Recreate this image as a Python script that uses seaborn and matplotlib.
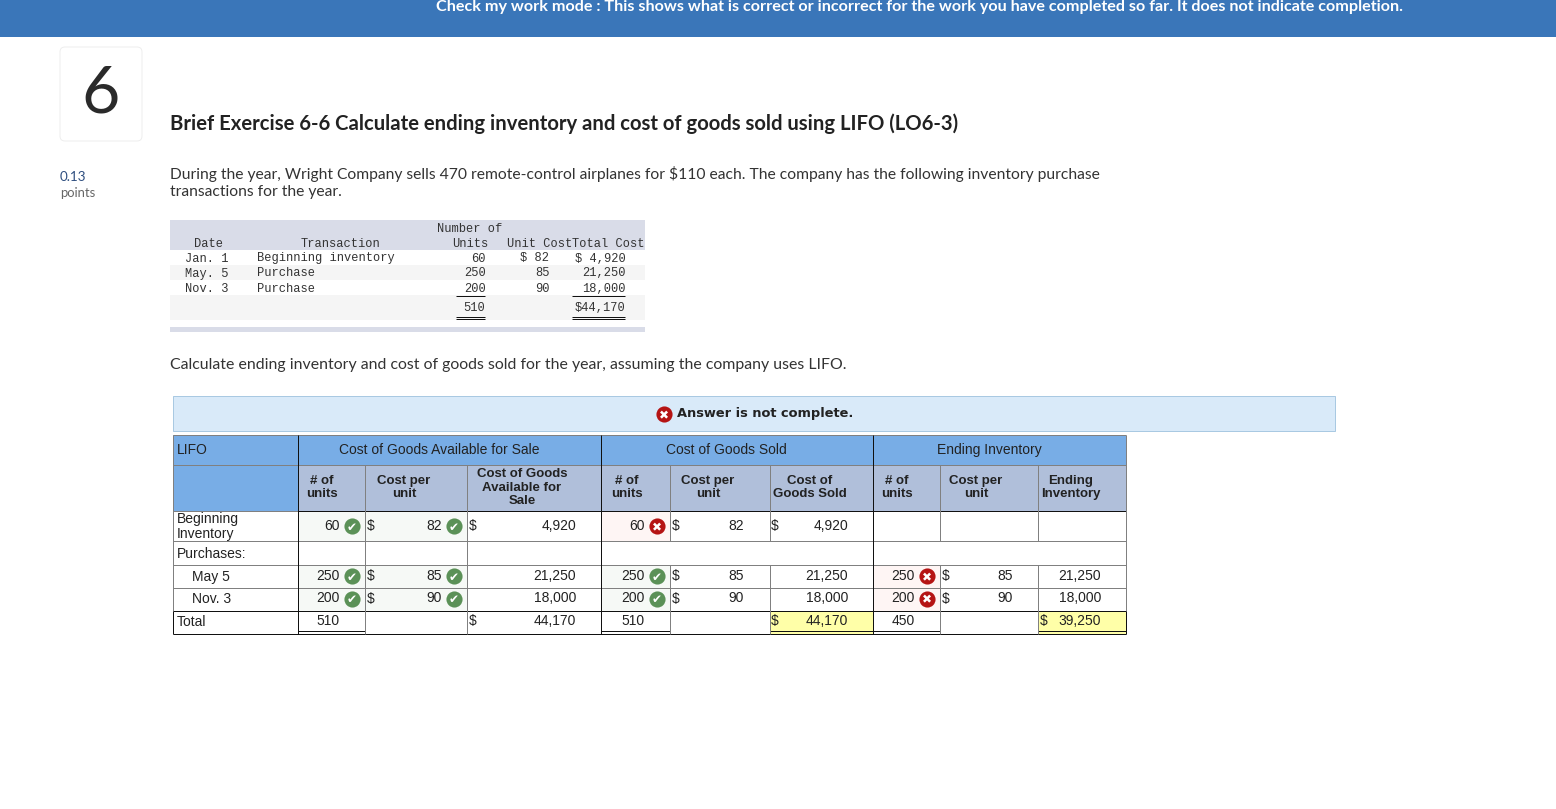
#!/usr/bin/env python3
"""Recreate the LIFO brief exercise screenshot."""

import numpy as np
import matplotlib
matplotlib.use('Agg')
import matplotlib.pyplot as plt
from matplotlib.colors import ListedColormap
from matplotlib.patches import FancyBboxPatch, Rectangle
import seaborn as sns

W, H = 1556, 809

# Inventory purchase table
purchase_dates = ['Jan. 1', 'May. 5', 'Nov. 3']
purchase_names = ['Beginning inventory', 'Purchase', 'Purchase']
purchase_units = ['60', '250', '200']
purchase_costs = ['$ 82', '85', '90']
purchase_totals = ['$ 4,920', '21,250', '18,000']
purchase_sum_units = '510'
purchase_sum_total = '$44,170'

# LIFO answer table
row_labels = ['Beginning\nInventory', 'Purchases:', 'May 5', 'Nov. 3', 'Total']
group_names = ['Cost of Goods Available for Sale', 'Cost of Goods Sold', 'Ending Inventory']
sub_headers = ['# of\nunits', 'Cost per\nunit', 'Cost of Goods\nAvailable for\nSale',
               '# of\nunits', 'Cost per\nunit', 'Cost of\nGoods Sold',
               '# of\nunits', 'Cost per\nunit', 'Ending\nInventory']

# body text by table column, one entry per row (Beginning, Purchases, May, Nov, Total)
avail_units = ['60', '', '250', '200', '510']
avail_costs = ['82', '', '85', '90', '']
avail_totals = ['4,920', '', '21,250', '18,000', '44,170']
sold_units = ['60', '', '250', '200', '510']
sold_costs = ['82', '', '85', '90', '']
sold_totals = ['4,920', '', '21,250', '18,000', '44,170']
end_units = ['', '', '250', '200', '450']
end_costs = ['', '', '85', '90', '']
end_totals = ['', '', '21,250', '18,000', '39,250']

# grading marks: 1 correct, 2 wrong, 0 nothing
avail_units_mark = [1, 0, 1, 1, 0]
avail_costs_mark = [1, 0, 1, 1, 0]
sold_units_mark = [2, 0, 1, 1, 0]
end_units_mark = [0, 0, 2, 2, 0]

# where a dollar sign shows in each column
avail_costs_dollar = [1, 0, 1, 1, 0]
avail_totals_dollar = [1, 0, 0, 0, 1]
sold_costs_dollar = [1, 0, 1, 1, 0]
sold_totals_dollar = [1, 0, 0, 0, 1]
end_costs_dollar = [0, 0, 1, 1, 0]
end_totals_dollar = [0, 0, 0, 0, 1]

# cell states for the heatmap background
WHITE, GOOD, BAD, YELLOW, BLUE, SUB = 0, 1, 2, 3, 4, 5
cell_colors = ['#FFFFFF', '#F6F9F6', '#FEF5F4', '#FFFFA8', '#78ADE6', '#B0BFDA']
cell_states = [
    [BLUE] * 10,
    [BLUE] + [SUB] * 9,
    [WHITE, GOOD, GOOD, WHITE, BAD, WHITE, WHITE, WHITE, WHITE, WHITE],
    [WHITE] * 10,
    [WHITE, GOOD, GOOD, WHITE, GOOD, WHITE, WHITE, BAD, WHITE, WHITE],
    [WHITE, GOOD, GOOD, WHITE, GOOD, WHITE, WHITE, BAD, WHITE, WHITE],
    [WHITE] * 6 + [YELLOW, WHITE, WHITE, YELLOW],
]
col_edges = [173, 298.5, 365.5, 467.5, 601.5, 670.5, 770, 873.5, 940.5, 1038.5, 1126.5]
row_edges = [434.5, 464.5, 510.5, 541, 564.5, 587.5, 610.5, 633.5]

band_colors = ['#FFFFFF', '#F5F5F5', '#D9DCE8']
band_states = [[2], [0], [1], [0], [1], [0], [2]]
band_edges = [220, 250, 265, 280, 295, 320, 327, 332]

sns.set_theme(style='white')
plt.rcParams['text.parse_math'] = False
plt.rcParams['font.family'] = ['Lato', 'DejaVu Sans']

fig = plt.figure(figsize=(W / 100, H / 100), dpi=100, facecolor='white')


def px(size):
    return size * 0.72


def stretched_heatmap(states, xs, ys, colors):
    """Heatmap whose cell grid is stretched to the given pixel edges."""
    ax = fig.add_axes([xs[0] / W, 1 - ys[-1] / H, (xs[-1] - xs[0]) / W, (ys[-1] - ys[0]) / H])
    states = np.array(states)
    sns.heatmap(states, ax=ax, cmap=ListedColormap(colors), vmin=0, vmax=len(colors) - 1,
                cbar=False, xticklabels=False, yticklabels=False)
    ix, iy = np.arange(len(xs)), np.arange(len(ys))
    ax.set_xscale('function', functions=(lambda v: np.interp(v, ix, xs), lambda v: np.interp(v, xs, ix)))
    ax.set_yscale('function', functions=(lambda v: np.interp(v, iy, ys), lambda v: np.interp(v, ys, iy)))
    ax.set_xlim(0, len(xs) - 1)
    ax.set_ylim(len(ys) - 1, 0)
    ax.minorticks_off()
    ax.tick_params(left=False, bottom=False, which='both', labelleft=False, labelbottom=False)
    ax.set_xlabel('')
    ax.set_ylabel('')
    return ax


stretched_heatmap(band_states, [170, 645], band_edges, band_colors)
stretched_heatmap(cell_states, col_edges, row_edges, cell_colors)

# overlay in pixel coordinates for the page furniture and text
ov = fig.add_axes([0, 0, 1, 1], zorder=5)
ov.set_xlim(0, W)
ov.set_ylim(H, 0)
ov.axis('off')
ov.patch.set_alpha(0)

# top bar
ov.add_patch(Rectangle((0, 0), W, 37, color='#3A76B9', lw=0))
ov.text(920, 6.5, 'Check my work mode : This shows what is correct or incorrect for the work '
        'you have completed so far. It does not indicate completion.',
        color='white', fontsize=px(16.1), fontweight='bold', ha='center', va='center')

# question number box
ov.add_patch(FancyBboxPatch((64, 51), 74, 86, boxstyle='round,pad=4,rounding_size=5',
                            fc='white', ec='#EEEEEE', lw=0.72))
ov.text(101, 94, '6', fontsize=px(66), color='#2A2A2A', ha='center', va='center')
ov.text(60, 176.5, '0.13', fontsize=px(13.5), color='#2F4F80', va='center')
ov.text(60, 192.5, 'points', fontsize=px(13), color='#666666', va='center')

# question text
ov.text(170, 124, 'Brief Exercise 6-6 Calculate ending inventory and cost of goods sold using LIFO (LO6-3)',
        fontsize=px(20.25), fontweight='bold', color='#222222', va='center')
ov.text(170, 174, 'During the year, Wright Company sells 470 remote-control airplanes for $110 each. '
        'The company has the following inventory purchase',
        fontsize=px(15.65), color='#333333', va='center')
ov.text(170, 192, 'transactions for the year.', fontsize=px(15.65), color='#333333', va='center')
ov.text(170, 364.5, 'Calculate ending inventory and cost of goods sold for the year, assuming the company uses LIFO.',
        fontsize=px(15.95), color='#333333', va='center')

# purchase table text
MONO = 'Liberation Mono'
mono_size = px(12)
mono_color = '#333333'


def mono(x, y, s, ha='left'):
    ov.text(x, y + 0.5, s, family=MONO, fontsize=mono_size, color=mono_color, ha=ha, va='center')


mono(470, 228, 'Number of', ha='center')
mono(209, 243, 'Date', ha='center')
mono(340.5, 243, 'Transaction', ha='center')
mono(470.5, 243, 'Units', ha='center')
mono(539.5, 243, 'Unit Cost', ha='center')
mono(608.5, 243, 'Total Cost', ha='center')
for i, y in enumerate([258, 273, 288]):
    mono(228.5, y, purchase_dates[i], ha='right')
    mono(257, y, purchase_names[i])
    mono(485.5, y, purchase_units[i], ha='right')
    mono(549.5, y, purchase_costs[i], ha='right')
    mono(625.5, y, purchase_totals[i], ha='right')
mono(485.5, 307, purchase_sum_units, ha='right')
mono(625.5, 307, purchase_sum_total, ha='right')
for x0, x1 in [(456, 485), (572, 625)]:
    ov.hlines([295.5, 317, 319], x0, x1, color='#111111', lw=0.72)

# banner above the answer table
ov.add_patch(Rectangle((173.5, 395.5), 1162, 35, fc='#D9EAF9', ec='#A9C9E2', lw=0.72))


def mark(x, y, kind):
    color = '#5B9157' if kind == 1 else '#B51414'
    glyph = '\u2714' if kind == 1 else '\u2716'
    ov.scatter([x], [y], s=135, color=color, linewidths=0, zorder=6)
    ov.text(x, y, glyph, family='DejaVu Sans', fontsize=px(12), color='white',
            ha='center', va='center_baseline', zorder=7)


mark(664, 414, 2)
ov.text(677, 413.5, 'Answer is not complete.', family='DejaVu Sans', fontweight='bold',
        fontsize=px(13), color='#222222', va='center')

# answer table grid
GREY = '#808080'
DARK = '#111111'
THIN = 0.72
ov.hlines(row_edges[:2], col_edges[0], col_edges[-1], color=GREY, lw=THIN)
ov.hlines(row_edges[2:6], col_edges[0], col_edges[-1], color=GREY, lw=THIN)
ov.hlines(row_edges[2], col_edges[1], col_edges[-1], color=DARK, lw=THIN)
ov.hlines(row_edges[6], col_edges[0], col_edges[-1], color=DARK, lw=THIN)
ov.hlines(row_edges[7], col_edges[0], col_edges[-1], color=DARK, lw=THIN)
# double rule under the total cells
for i in [1, 4, 6, 7, 9]:
    ov.hlines(631, col_edges[i], col_edges[i + 1], color=DARK, lw=THIN)
# minor column rules, the sold and ending groups skip the purchases row
y_sub = row_edges[1]
bottom = row_edges[-1]
for i in [2, 3]:
    ov.vlines(col_edges[i], y_sub, bottom, color=GREY, lw=THIN)
for i in [5, 6, 8, 9]:
    ov.vlines(col_edges[i], y_sub, row_edges[3], color=GREY, lw=THIN)
    ov.vlines(col_edges[i], row_edges[4], bottom, color=GREY, lw=THIN)
ov.vlines([col_edges[1], col_edges[4], col_edges[7]], row_edges[0], row_edges[-1], color=DARK, lw=THIN)
ov.vlines([col_edges[0], col_edges[-1]], row_edges[0], row_edges[-2], color=GREY, lw=THIN)
ov.vlines([col_edges[0], col_edges[-1]], row_edges[-2], row_edges[-1], color=DARK, lw=THIN)

# answer table text
ARIAL = 'Liberation Sans'
cell_size = px(13.9)
ink = '#222222'


def cell(x, y, s, ha='right', bold=False, linespacing=1.08):
    ov.text(x, y, s, family=ARIAL, fontsize=px(13.2) if bold else cell_size, color=ink, ha=ha, va='center',
            fontweight='bold' if bold else 'normal', linespacing=linespacing, multialignment='center')


cell(177, 449.5, 'LIFO', ha='left')
for x, name in zip([439, 726.5, 989], group_names):
    cell(x, 449.5, name, ha='center')

sub_x = [306, 404, 522, 611, 708, 810, 881, 976, 1071]
sub_ha = ['left', 'center', 'center', 'left', 'center', 'center', 'left', 'center', 'center']
for x, ha, name in zip(sub_x, sub_ha, sub_headers):
    cell(x, 487.5, name, ha=ha, bold=True, linespacing=1.16)

row_y = [526, 553, 576, 598.5, 621]
label_x = [177, 177, 192, 192, 177]
for x, y, label in zip(label_x, row_y, row_labels):
    ov.text(x, y + 0.5, label, family=ARIAL, fontsize=cell_size, color=ink, va='center', linespacing=1.16)

# (values, right edge of the text, marks, icon centre, dollar flags, dollar x)
columns = [
    (avail_units, 340, avail_units_mark, 352, None, None),
    (avail_costs, 442, avail_costs_mark, 454, avail_costs_dollar, 367),
    (avail_totals, 576, None, None, avail_totals_dollar, 469),
    (sold_units, 645, sold_units_mark, 657, None, None),
    (sold_costs, 744, None, None, sold_costs_dollar, 672),
    (sold_totals, 848, None, None, sold_totals_dollar, 771),
    (end_units, 915, end_units_mark, 927, None, None),
    (end_costs, 1013, None, None, end_costs_dollar, 942),
    (end_totals, 1101, None, None, end_totals_dollar, 1040),
]
for values, right, marks, icon_x, dollars, dollar_x in columns:
    for r, y in enumerate(row_y):
        if values[r]:
            cell(right, y, values[r])
        if marks is not None and marks[r]:
            mark(icon_x, y, marks[r])
        if dollars is not None and dollars[r]:
            cell(dollar_x, y, '$', ha='left')

fig.savefig('out.png', dpi=100, facecolor='white')
